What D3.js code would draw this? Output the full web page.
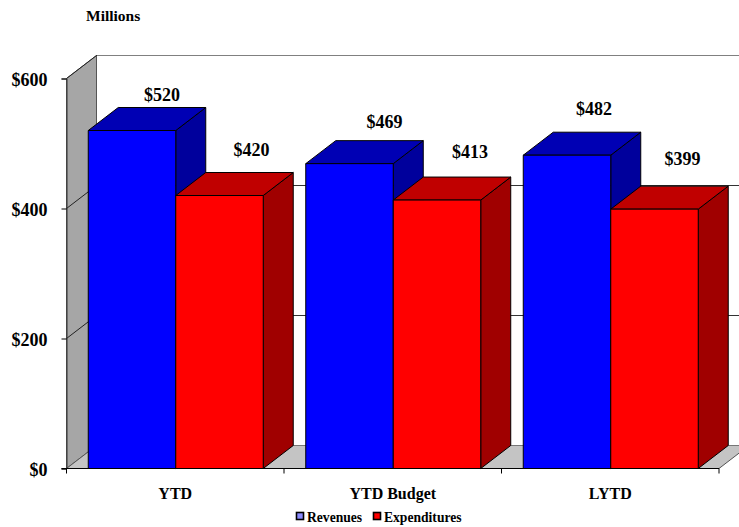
<!DOCTYPE html>
<html lang="en">
<head>
  <meta charset="UTF-8">
  <title>Revenues and Expenditures</title>
  <script src="https://d3js.org/d3.v7.min.js"></script>
  <style>
    html, body { margin: 0; background: #fff; overflow: hidden; }
    svg { display: block; }
    text { font-family: "Liberation Serif", serif; font-weight: bold; fill: #000; }
  </style>
</head>
<body>
  <svg width="739" height="527"></svg>
  <script>
    const categories = ["YTD", "YTD Budget", "LYTD"];
    const seriesNames = ["Revenues", "Expenditures"];
    const revenues = [520, 469, 482];
    const expenditures = [420, 413, 399];
    const yTicks = [0, 200, 400, 600];

    const colors = {
      Revenues: { front: "#0000ff", top: "#0000b4", side: "#00009c", swatch: "#8c8cff" },
      Expenditures: { front: "#ff0000", top: "#c00000", side: "#a00000", swatch: "#ff0000" }
    };

    // 3d offset of the back wall from the front plane
    const depthX = 30, depthY = -23;

    // the labels were placed by hand in the original, [dx, dy] from the bar's front top centre
    const labelNudge = {
      "YTD/Revenues": [30, -30], "YTD/Expenditures": [32, -40],
      "YTD Budget/Revenues": [35, -36], "YTD Budget/Expenditures": [33, -42],
      "LYTD/Revenues": [27, -40], "LYTD/Expenditures": [28, -44]
    };

    const svg = d3.select("svg");

    const y = d3.scaleLinear().domain([0, 600]).range([468.5, 78.5]);
    const x0 = d3.scaleBand().domain(categories).range([66.5, 719]);
    const x1 = d3.scaleBand().domain(seriesNames)
      .range([0, x0.bandwidth()]).paddingOuter(0.243).paddingInner(0);

    const y0 = y(0), yTop = y(600), xL = x0.range()[0], xR = x0.range()[1];
    const poly = pts => pts.map(p => p.join(",")).join(" ");

    // walls
    svg.append("polygon")
      .attr("points", poly([[xL, y0], [xL, yTop], [xL + depthX, yTop + depthY], [xL + depthX, y0 + depthY]]))
      .attr("fill", "#a6a6a6").attr("stroke", "#555").attr("stroke-width", 1);
    svg.append("polygon")
      .attr("points", poly([[xL, y0], [xL + depthX, y0 + depthY], [xR + depthX, y0 + depthY], [xR, y0]]))
      .attr("fill", "#c4c4c4").attr("stroke", "#555").attr("stroke-width", 1);

    // gridlines on left and back walls
    const grid = svg.append("g");
    yTicks.forEach(t => {
      if (t > 0) {
        grid.append("line")
          .attr("x1", xL).attr("y1", y(t))
          .attr("x2", xL + depthX).attr("y2", y(t) + depthY)
          .attr("stroke", "#222");
      }
      const back = grid.append("line")
        .attr("x1", xL + depthX).attr("y1", y(t) + depthY)
        .attr("x2", xR + depthX).attr("y2", y(t) + depthY)
        .attr("stroke", t === 0 ? "#777" : "#333");
      if (t === 600) back.attr("stroke-dasharray", "1,1").attr("stroke", "#000");
    });

    // bars, drawn back to front from left to right
    const barData = categories.flatMap((c, i) => [
      { cat: c, name: "Revenues", value: revenues[i] },
      { cat: c, name: "Expenditures", value: expenditures[i] }
    ]);

    const bars = svg.append("g").selectAll("g").data(barData).enter().append("g")
      .attr("stroke", "#000").attr("stroke-width", 1).attr("stroke-linejoin", "round");

    const left = d => x0(d.cat) + x1(d.name) + 0.5;
    const right = d => left(d) + x1.bandwidth();

    bars.append("polygon")
      .attr("fill", d => colors[d.name].side)
      .attr("points", d => poly([[right(d), y0], [right(d), y(d.value)],
        [right(d) + depthX, y(d.value) + depthY], [right(d) + depthX, y0 + depthY]]));
    bars.append("polygon")
      .attr("fill", d => colors[d.name].top)
      .attr("points", d => poly([[left(d), y(d.value)], [left(d) + depthX, y(d.value) + depthY],
        [right(d) + depthX, y(d.value) + depthY], [right(d), y(d.value)]]));
    bars.append("rect")
      .attr("fill", d => colors[d.name].front)
      .attr("x", left).attr("y", d => y(d.value))
      .attr("width", x1.bandwidth()).attr("height", d => y0 - y(d.value));

    // value labels
    svg.append("g").selectAll("text").data(barData).enter().append("text")
      .attr("x", d => left(d) + x1.bandwidth() / 2 + labelNudge[d.cat + "/" + d.name][0])
      .attr("y", d => y(d.value) + labelNudge[d.cat + "/" + d.name][1])
      .attr("text-anchor", "middle")
      .attr("font-size", 18)
      .text(d => "$" + d.value);

    // axes
    const yAxis = d3.axisLeft(y).tickValues(yTicks).tickSize(5).tickPadding(14)
      .tickFormat(d => "$" + d);
    const yG = svg.append("g").attr("transform", `translate(${xL},0)`).call(yAxis);
    yG.selectAll("text").attr("font-size", 18).attr("dy", "0.4em")
      .style("font-family", '"Liberation Serif", serif');
    yG.select(".domain").attr("stroke", "#333");

    const xAxis = d3.axisBottom(x0).tickSize(0).tickPadding(19);
    const xG = svg.append("g").attr("transform", `translate(0,${y0})`).call(xAxis);
    xG.select(".domain").remove();
    xG.selectAll("text").attr("font-size", 16)
      .style("font-family", '"Liberation Serif", serif');
    xG.selectAll(".sep").data([0, 1, 2, 3]).enter().append("line")
      .attr("class", "sep")
      .attr("x1", i => xL + i * x0.step()).attr("x2", i => xL + i * x0.step())
      .attr("y1", 0).attr("y2", 5).attr("stroke", "#000");
    xG.append("line").attr("x1", xL - 5).attr("x2", xR)
      .attr("y1", 0).attr("y2", 0).attr("stroke", "#000");

    // title
    svg.append("text").attr("x", 86).attr("y", 21).attr("font-size", 15.5).text("Millions");

    // legend
    const legendX = [296, 373];
    const legend = svg.append("g").selectAll("g").data(seriesNames).enter().append("g")
      .attr("transform", (d, i) => `translate(${legendX[i]},512)`);
    legend.append("rect").attr("x", 0.5).attr("y", 0.5).attr("width", 7).attr("height", 7)
      .attr("fill", d => colors[d].swatch).attr("stroke", "#000").attr("stroke-width", 1.6);
    legend.append("text").attr("x", 11).attr("y", 9.5).attr("font-size", 13.6).text(d => d);
  </script>
</body>
</html>
